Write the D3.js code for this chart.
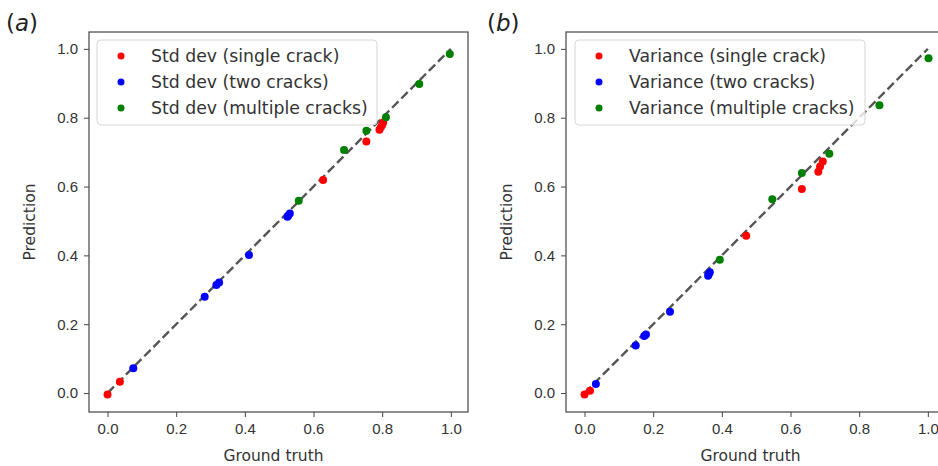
<!DOCTYPE html>
<html>
  <head>
    <title>Std dev / Variance predictions</title>
    <script src="https://d3js.org/d3.v7.min.js" charset="utf-8"></script>
    <style>
    body {
        margin: 0;
        background: white;
        font-family: "DejaVu Sans", sans-serif;
    }
    .tick text {
        font-size: 15px;
        fill: #333;
    }
    .axis path, .axis line {
        stroke: #444;
    }
    </style>
  </head>

  <body>
    <script>
// panel (a): standard deviation
var stdSingleX = [0.0, 0.036, 0.628, 0.754, 0.792, 0.796, 0.800, 0.803];
var stdSingleY = [-0.004, 0.033, 0.619, 0.731, 0.765, 0.772, 0.779, 0.786];
var stdTwoX = [0.075, 0.283, 0.317, 0.325, 0.412, 0.524, 0.526, 0.531];
var stdTwoY = [0.072, 0.280, 0.314, 0.321, 0.401, 0.512, 0.515, 0.522];
var stdMultiX = [0.557, 0.689, 0.754, 0.811, 0.908, 0.997];
var stdMultiY = [0.559, 0.706, 0.762, 0.801, 0.898, 0.985];

// panel (b): variance
var varSingleX = [0.0, 0.016, 0.471, 0.633, 0.681, 0.686, 0.694];
var varSingleY = [-0.004, 0.007, 0.457, 0.593, 0.643, 0.658, 0.673];
var varTwoX = [0.033, 0.149, 0.174, 0.179, 0.249, 0.360, 0.362, 0.365];
var varTwoY = [0.026, 0.138, 0.166, 0.170, 0.236, 0.341, 0.346, 0.351];
var varMultiX = [0.394, 0.547, 0.633, 0.713, 0.859, 1.002];
var varMultiY = [0.387, 0.563, 0.639, 0.695, 0.836, 0.973];

var ticks = [0.0, 0.2, 0.4, 0.6, 0.8, 1.0];
var seriesColors = ["#ff0000", "#0000ff", "#008000"];

var width = 938;
var height = 466;

var svg = d3.select("body")
  .append("svg")
  .attr("width", width)
  .attr("height", height);

function zip(xs, ys) {
  return xs.map(function(x, i) { return {x: x, y: ys[i]}; });
}

var panels = [
  {
    tag: "a", left: 89, right: 468, tagX: 6, labelX: 30,
    legendX: 97, legendW: 280,
    names: ["Std dev (single crack)", "Std dev (two cracks)", "Std dev (multiple cracks)"],
    series: [zip(stdSingleX, stdSingleY), zip(stdTwoX, stdTwoY), zip(stdMultiX, stdMultiY)]
  },
  {
    tag: "b", left: 566, right: 945, tagX: 487, labelX: 507,
    legendX: 575, legendW: 290,
    names: ["Variance (single crack)", "Variance (two cracks)", "Variance (multiple cracks)"],
    series: [zip(varSingleX, varSingleY), zip(varTwoX, varTwoY), zip(varMultiX, varMultiY)]
  }
];

var plotTop = 32, plotBottom = 412;

panels.forEach(function(p) {
  var x = d3.scaleLinear().domain([-0.054, 1.05]).range([p.left, p.right]);
  var y = d3.scaleLinear().domain([-0.055, 1.049]).range([plotBottom, plotTop]);

  var g = svg.append("g");

  g.append("g")
    .attr("class", "axis")
    .attr("transform", "translate(0," + plotBottom + ")")
    .call(d3.axisBottom(x).tickValues(ticks).tickFormat(d3.format(".1f")).tickSize(5).tickPadding(6))
    .call(function(a) { a.select(".domain").remove(); });

  g.append("g")
    .attr("class", "axis")
    .attr("transform", "translate(" + p.left + ",0)")
    .call(d3.axisLeft(y).tickValues(ticks).tickFormat(d3.format(".1f")).tickSize(5).tickPadding(6))
    .call(function(a) { a.select(".domain").remove(); });

  // diagonal reference
  g.append("line")
    .attr("x1", x(0)).attr("y1", y(0))
    .attr("x2", x(1)).attr("y2", y(1))
    .attr("stroke", "#555")
    .attr("stroke-width", 2.4)
    .attr("stroke-dasharray", "9,4");

  p.series.forEach(function(s, i) {
    g.append("g").selectAll("circle")
      .data(s)
      .enter()
      .append("circle")
      .attr("cx", function(d) { return x(d.x); })
      .attr("cy", function(d) { return y(d.y); })
      .attr("r", 4)
      .attr("fill", seriesColors[i]);
  });

  // frame
  g.append("rect")
    .attr("x", p.left).attr("y", plotTop)
    .attr("width", p.right - p.left).attr("height", plotBottom - plotTop)
    .attr("fill", "none")
    .attr("stroke", "#444")
    .attr("stroke-width", 1.2);

  // legend
  var lg = g.append("g");
  lg.append("rect")
    .attr("x", p.legendX).attr("y", 40)
    .attr("width", p.legendW).attr("height", 85)
    .attr("rx", 4)
    .attr("fill", "white")
    .attr("fill-opacity", 0.8)
    .attr("stroke", "#d6d6d6");
  p.names.forEach(function(name, i) {
    var ly = 56 + i * 26;
    lg.append("circle")
      .attr("cx", p.legendX + 24).attr("cy", ly)
      .attr("r", 3.5)
      .attr("fill", seriesColors[i]);
    lg.append("text")
      .attr("x", p.legendX + 54).attr("y", ly + 6)
      .attr("font-size", 17.3)
      .attr("fill", "#333")
      .text(name);
  });

  g.append("text")
    .attr("x", (p.left + Math.min(p.right, 938 + 7)) / 2 - 5)
    .attr("y", 461)
    .attr("text-anchor", "middle")
    .attr("font-size", 15.5)
    .attr("fill", "#333")
    .text("Ground truth");

  g.append("text")
    .attr("transform", "translate(" + p.labelX + "," + (plotTop + plotBottom) / 2 + ") rotate(-90)")
    .attr("text-anchor", "middle")
    .attr("dy", "0.35em")
    .attr("font-size", 15.5)
    .attr("fill", "#333")
    .text("Prediction");

  var t = g.append("text")
    .attr("x", p.tagX).attr("y", 31)
    .attr("font-size", 23)
    .attr("fill", "#222");
  t.append("tspan").text("(");
  t.append("tspan").attr("font-style", "italic").text(p.tag);
  t.append("tspan").text(")");
});
    </script>
  </body>
</html>
